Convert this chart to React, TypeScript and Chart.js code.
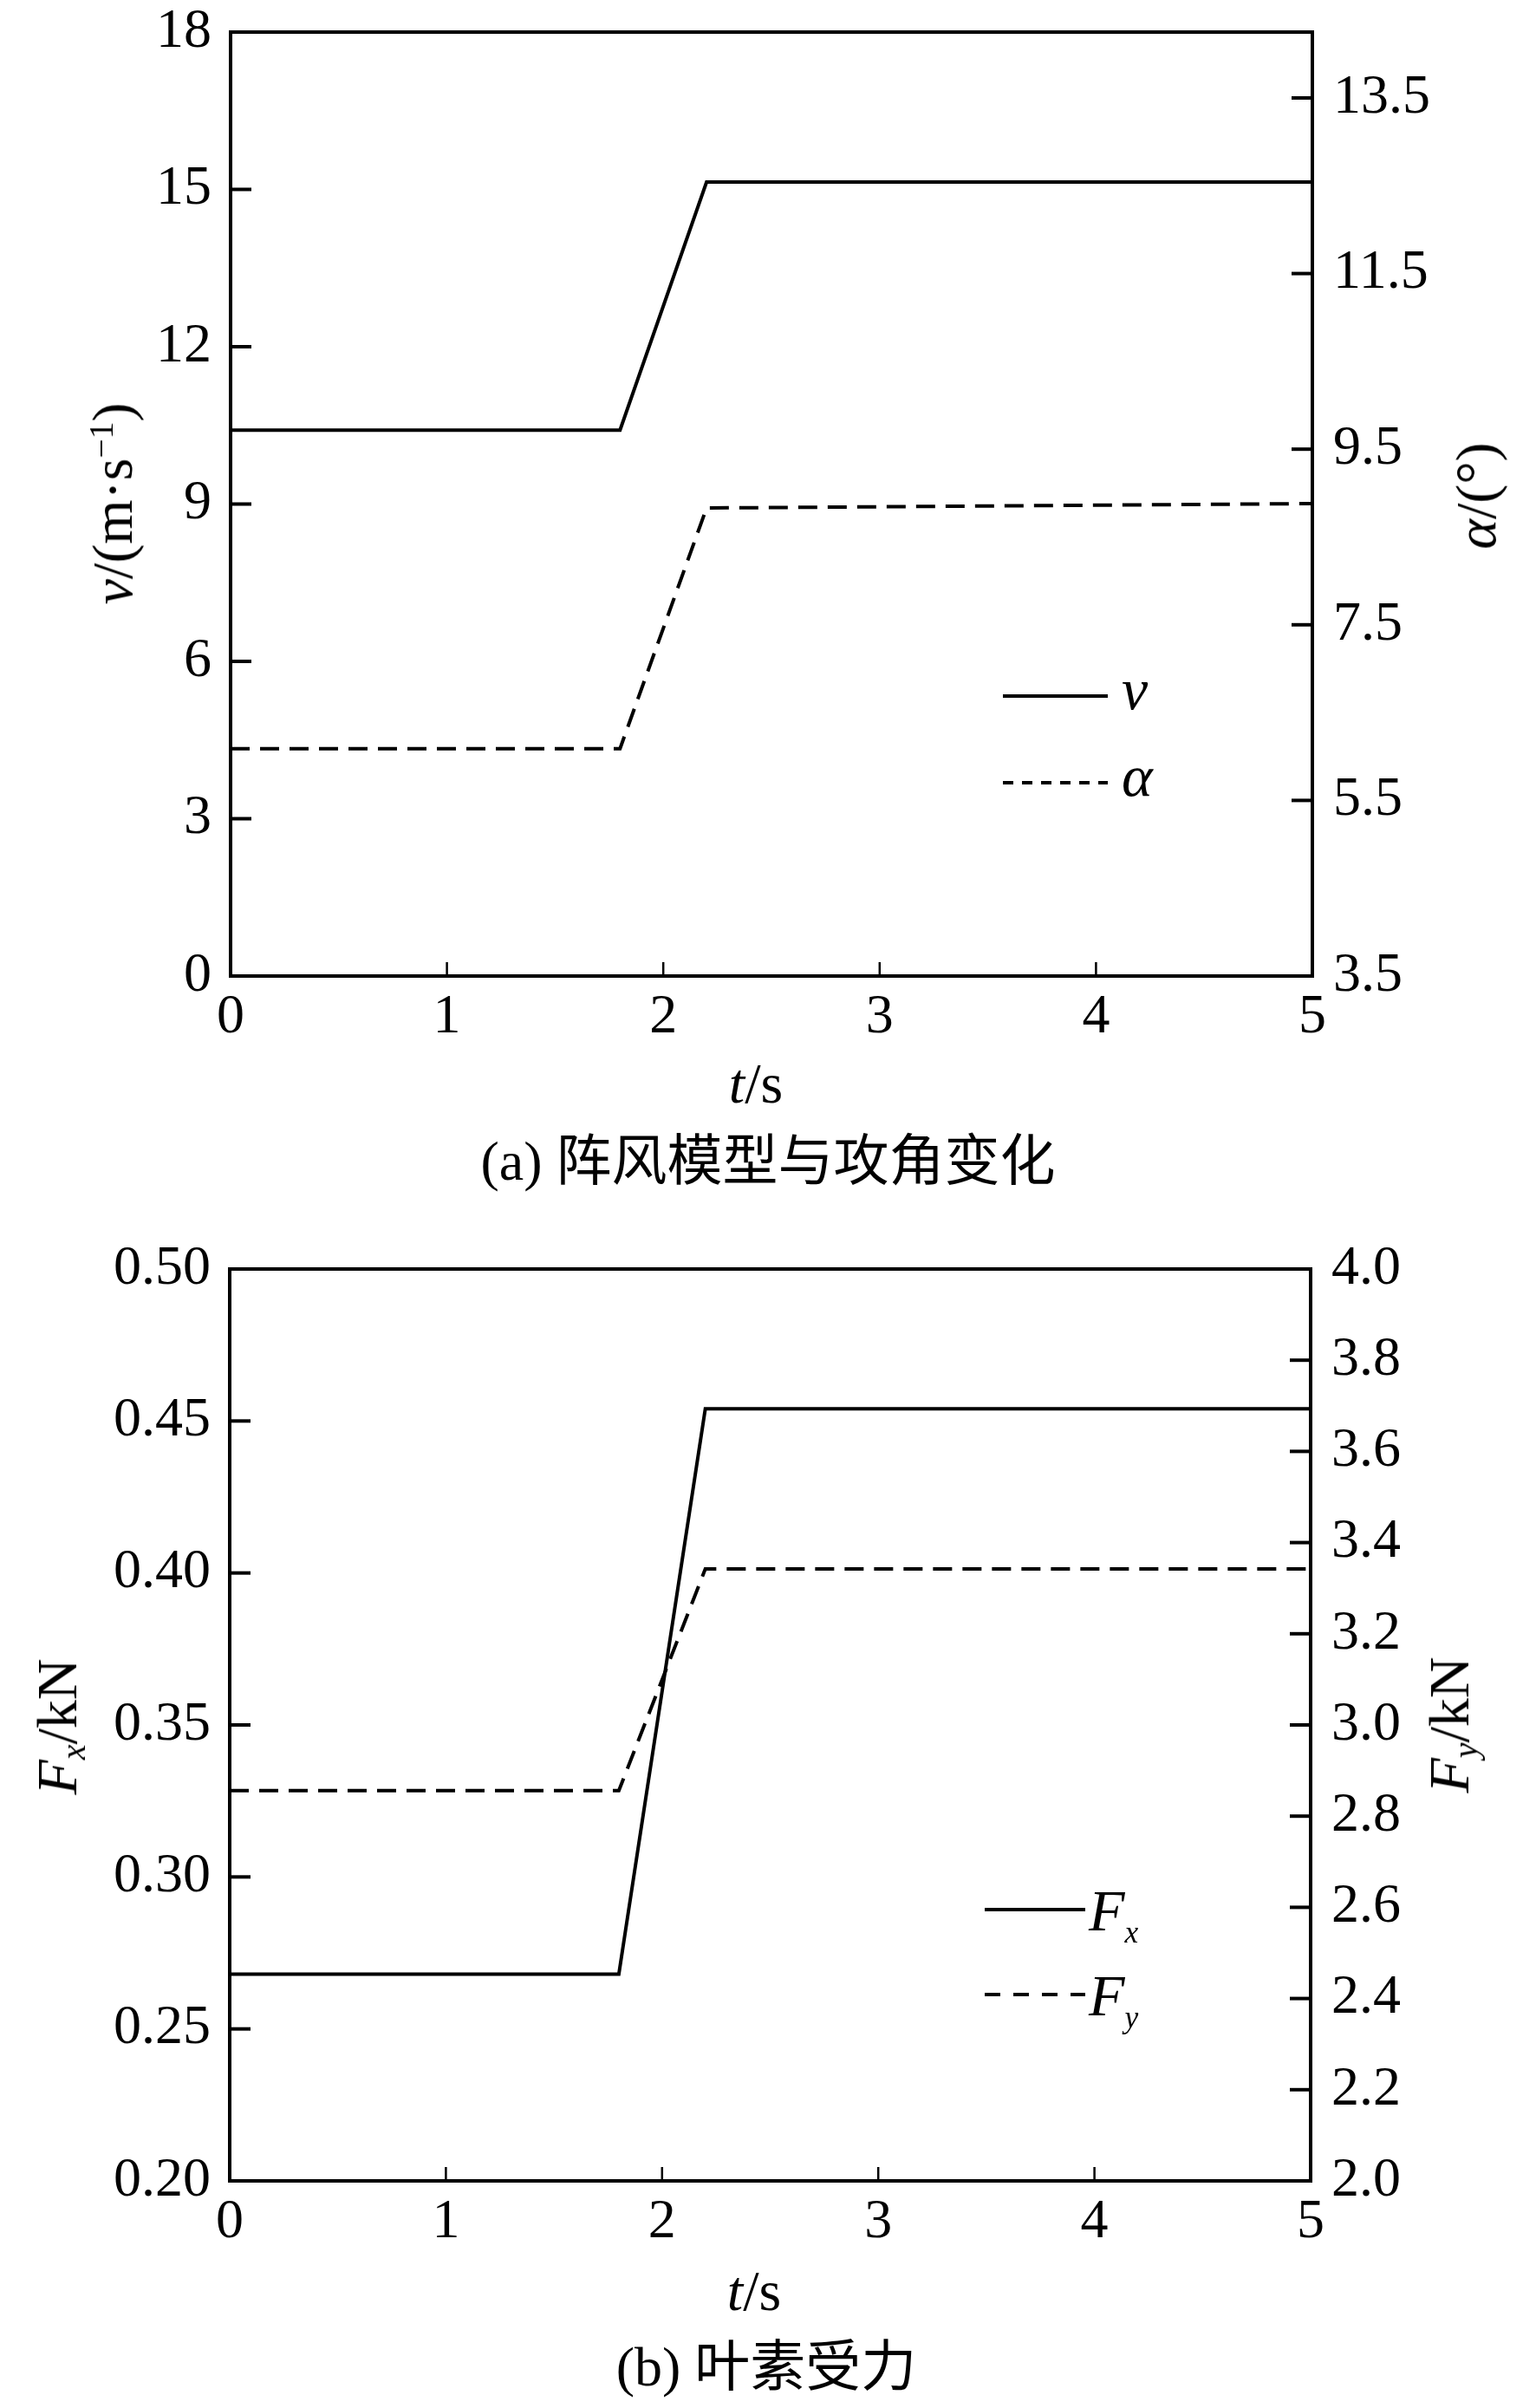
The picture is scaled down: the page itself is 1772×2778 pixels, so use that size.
import { useEffect, useRef } from 'react';
import { Chart, LineController, LineElement, PointElement, LinearScale, type Plugin } from 'chart.js';

Chart.register(LineController, LineElement, PointElement, LinearScale);

// (a) gust model and angle of attack
const T_A = [0, 1.8, 2.2, 5];
const V_A = [10.41, 10.41, 15.14, 15.14];
const ALPHA_A = [6.09, 6.09, 8.83, 8.88];

// (b) blade element forces
const T_B = [0, 1.8, 2.2, 5];
const FX_B = [0.268, 0.268, 0.454, 0.454];
const FY_B = [2.856, 2.856, 3.342, 3.342];

const T_TICKS = [0, 1, 2, 3, 4, 5];
const V_TICKS = [0, 3, 6, 9, 12, 15, 18];
const ALPHA_TICKS = [3.5, 5.5, 7.5, 9.5, 11.5, 13.5];
const FX_TICKS = [0.2, 0.25, 0.3, 0.35, 0.4, 0.45, 0.5];
const FY_TICKS = [2.0, 2.2, 2.4, 2.6, 2.8, 3.0, 3.2, 3.4, 3.6, 3.8, 4.0];

const W = 1772;
const FONT = '"Liberation Serif", "Noto Sans CJK SC", serif';

type Run = { text: string; italic?: boolean; sub?: boolean };

interface Series {
  label: Run[];
  data: number[];
  axis: 'y' | 'y1';
  dashed?: boolean;
}

interface PanelProps {
  top: number;
  height: number;
  plot: { left: number; right: number; top: number; bottom: number };
  t: number[];
  series: Series[];
  leftTicks: number[];
  rightTicks: number[];
  leftRange: [number, number];
  rightRange: [number, number];
  leftDigits: number;
  rightDigits: number;
  legend: { x0: number; x1: number; textX: number; ys: number[]; baseline: number; dash: number[] };
}

function drawRuns(ctx: CanvasRenderingContext2D, runs: Run[], x: number, y: number, size: number) {
  let cx = x;
  for (const r of runs) {
    const s = r.sub ? size * 0.52 : size;
    ctx.font = `${r.italic ? 'italic ' : ''}${s}px ${FONT}`;
    ctx.fillText(r.text, cx, y + (r.sub ? size * 0.2 : 0));
    cx += ctx.measureText(r.text).width;
  }
}

const fixedTicks = (vals: number[]) => (scale: any) => {
  scale.ticks = vals.map((v) => ({ value: v }));
};

function Panel({ top, height, plot, t, series, leftTicks, rightTicks, leftRange, rightRange, leftDigits, rightDigits, legend }: PanelProps) {
  const canvasRef = useRef<HTMLCanvasElement>(null);

  useEffect(() => {
    if (!canvasRef.current) return;
    const tickFont = { family: FONT, size: 64, lineHeight: 1 };

    // frame with inward ticks, plus the in-plot legend
    const decor: Plugin<'line'> = {
      id: 'decor',
      afterDatasetsDraw(chart) {
        const { ctx, chartArea: a, scales } = chart;
        ctx.save();
        ctx.strokeStyle = '#000';
        ctx.lineWidth = 4;
        ctx.strokeRect(a.left, a.top, a.right - a.left, a.bottom - a.top);
        const seg = (x0: number, y0: number, x1: number, y1: number) => {
          ctx.beginPath();
          ctx.moveTo(x0, y0);
          ctx.lineTo(x1, y1);
          ctx.stroke();
        };
        for (const tk of scales.y.ticks) {
          const py = scales.y.getPixelForValue(tk.value);
          seg(a.left, py, a.left + 24, py);
        }
        for (const tk of scales.y1.ticks) {
          const py = scales.y1.getPixelForValue(tk.value);
          seg(a.right - 24, py, a.right, py);
        }
        ctx.lineWidth = 2.5;
        for (const tk of scales.x.ticks) {
          const px = scales.x.getPixelForValue(tk.value);
          seg(px, a.bottom - 16, px, a.bottom);
        }

        ctx.lineWidth = 4;
        ctx.fillStyle = '#000';
        ctx.textBaseline = 'alphabetic';
        series.forEach((s, i) => {
          const y = legend.ys[i];
          ctx.setLineDash(s.dashed ? legend.dash : []);
          seg(legend.x0, y, legend.x1, y);
          ctx.setLineDash([]);
          drawRuns(ctx, s.label, legend.textX, y + legend.baseline, 68);
        });
        ctx.restore();
      },
    };

    const yFit = (w: number) => (s: any) => {
      s.width = w;
      s.paddingTop = 0;
      s.paddingBottom = 0;
    };

    const chart = new Chart(canvasRef.current, {
      type: 'line',
      data: {
        datasets: series.map((s) => ({
          label: s.label.map((r) => r.text).join(''),
          data: t.map((x, i) => ({ x, y: s.data[i] })),
          yAxisID: s.axis,
          borderColor: '#000',
          borderWidth: 4,
          borderDash: s.dashed ? [22, 12] : [],
          pointRadius: 0,
          tension: 0,
          fill: false,
        })),
      },
      options: {
        animation: false,
        responsive: false,
        devicePixelRatio: 1,
        layout: { padding: { top: plot.top, left: 0, right: 0, bottom: 0 } },
        plugins: { legend: { display: false }, tooltip: { enabled: false } },
        scales: {
          x: {
            type: 'linear',
            position: 'bottom',
            min: 0,
            max: 5,
            afterBuildTicks: fixedTicks(T_TICKS),
            afterFit: (s: any) => {
              s.height = height - plot.bottom;
              s.paddingLeft = 0;
              s.paddingRight = 0;
            },
            grid: { display: false, drawTicks: false },
            border: { display: false },
            ticks: { font: tickFont, color: '#000', padding: 16, maxRotation: 0, autoSkip: false, callback: (v: any) => String(v) },
          },
          y: {
            type: 'linear',
            position: 'left',
            min: leftRange[0],
            max: leftRange[1],
            afterBuildTicks: fixedTicks(leftTicks),
            afterFit: yFit(plot.left),
            grid: { display: false, drawTicks: false },
            border: { display: false },
            ticks: { font: tickFont, color: '#000', padding: 22, autoSkip: false, callback: (v: any) => Number(v).toFixed(leftDigits) },
          },
          y1: {
            type: 'linear',
            position: 'right',
            min: rightRange[0],
            max: rightRange[1],
            afterBuildTicks: fixedTicks(rightTicks),
            afterFit: yFit(W - plot.right),
            grid: { display: false, drawTicks: false },
            border: { display: false },
            ticks: { font: tickFont, color: '#000', padding: 24, autoSkip: false, callback: (v: any) => Number(v).toFixed(rightDigits) },
          },
        },
      },
      plugins: [decor],
    } as any);

    return () => { chart.destroy(); };
  }, []);

  return <canvas ref={canvasRef} width={W} height={height} style={{ position: 'absolute', left: 0, top, display: 'block' }} />;
}

function Label({ x, y, rotate = false, size = 66, children }: { x: number; y: number; rotate?: boolean; size?: number; children: any }) {
  return (
    <div
      style={{
        position: 'absolute',
        left: x,
        top: y,
        transform: `translate(-50%, -50%)${rotate ? ' rotate(-90deg)' : ''}`,
        fontFamily: FONT,
        fontSize: size,
        lineHeight: 1,
        whiteSpace: 'nowrap',
        color: '#000',
      }}
    >
      {children}
    </div>
  );
}

const subStyle = { fontSize: '0.6em', verticalAlign: '-0.25em', fontStyle: 'italic', lineHeight: 0 } as const;
const supStyle = { fontSize: '0.6em', verticalAlign: '0.55em', lineHeight: 0 } as const;

export default function App() {
  return (
    <div style={{ position: 'absolute', left: 0, top: 0, width: W, height: 2778, background: '#fff', overflow: 'hidden' }}>
      <Panel
        top={0}
        height={1400}
        plot={{ left: 266, right: 1514, top: 37, bottom: 1126 }}
        t={T_A}
        series={[
          { label: [{ text: 'v', italic: true }], data: V_A, axis: 'y' },
          { label: [{ text: 'α', italic: true }], data: ALPHA_A, axis: 'y1', dashed: true },
        ]}
        leftTicks={V_TICKS}
        rightTicks={ALPHA_TICKS}
        leftRange={[0, 18]}
        rightRange={[3.5, 14.25]}
        leftDigits={0}
        rightDigits={1}
        legend={{ x0: 1157, x1: 1278, textX: 1294, ys: [803, 903], baseline: 15, dash: [12, 10] }}
      />
      <Panel
        top={1400}
        height={1378}
        plot={{ left: 265, right: 1512, top: 64, bottom: 1116 }}
        t={T_B}
        series={[
          { label: [{ text: 'F', italic: true }, { text: 'x', italic: true, sub: true }], data: FX_B, axis: 'y' },
          { label: [{ text: 'F', italic: true }, { text: 'y', italic: true, sub: true }], data: FY_B, axis: 'y1', dashed: true },
        ]}
        leftTicks={FX_TICKS}
        rightTicks={FY_TICKS}
        leftRange={[0.2, 0.5]}
        rightRange={[2.0, 4.0]}
        leftDigits={2}
        rightDigits={1}
        legend={{ x0: 1136, x1: 1252, textX: 1256, ys: [803, 901], baseline: 24, dash: [18, 15] }}
      />

      <Label x={130} y={581} rotate>
        <i>v</i>/(m·s<sup style={supStyle}>−1</sup>)
      </Label>
      <Label x={1703} y={572} rotate>
        <i>α</i>/(°)
      </Label>
      <Label x={872} y={1250}>
        <i>t</i>/s
      </Label>
      <Label x={886} y={1340} size={64}>
        (a) 阵风模型与攻角变化
      </Label>

      <Label x={66} y={1992} rotate>
        <i>F</i><sub style={subStyle}>x</sub>/kN
      </Label>
      <Label x={1672} y={1990} rotate>
        <i>F</i><sub style={subStyle}>y</sub>/kN
      </Label>
      <Label x={870} y={2643}>
        <i>t</i>/s
      </Label>
      <Label x={884} y={2731} size={64}>
        (b) 叶素受力
      </Label>
    </div>
  );
}
